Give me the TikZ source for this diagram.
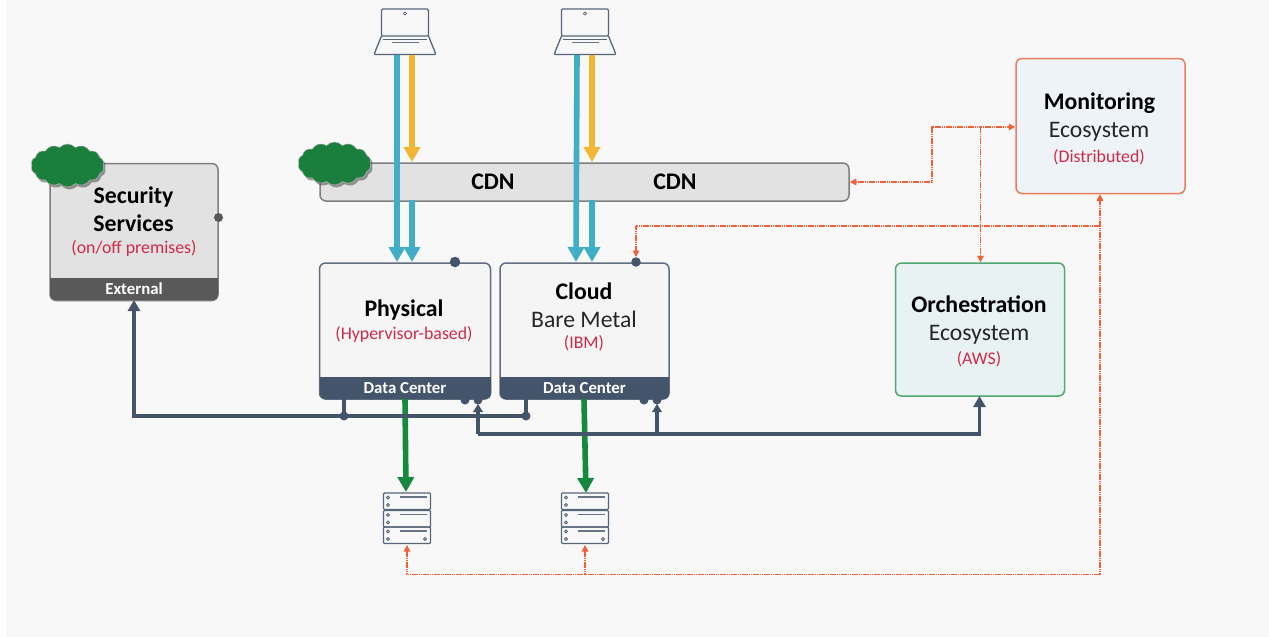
\documentclass[tikz,border=0pt]{standalone}
\usepackage{fontspec}
\setmainfont{Carlito}
\usetikzlibrary{arrows.meta,calc,shadows,shapes.symbols}
\definecolor{pagebg}{HTML}{F8F8F8}
\definecolor{slateblue}{HTML}{44546A}
\definecolor{boxgrey}{HTML}{E2E2E2}
\definecolor{boxedge}{HTML}{7F7F7F}
\definecolor{darkband}{HTML}{595959}
\definecolor{boxlight}{HTML}{F5F5F6}
\definecolor{tealarrow}{HTML}{3FAEC6}
\definecolor{goldarrow}{HTML}{F2B632}
\definecolor{greenarrow}{HTML}{158A3E}
\definecolor{cloudgreen}{HTML}{1A7F3C}
\definecolor{monred}{HTML}{F2603A}
\definecolor{monedge}{HTML}{EC7B5F}
\definecolor{orchedge}{HTML}{4FA973}
\definecolor{icefill}{HTML}{EDF3F6}
\definecolor{orchfill}{HTML}{E9F2F3}
\definecolor{labelred}{HTML}{CF2A4A}
\tikzset{
  x=1pt,y=-1pt,
  tealline/.style={draw=tealarrow,line width=5.6pt,-{Triangle[length=15pt,width=16pt]}},
  goldline/.style={draw=goldarrow,line width=5.6pt,-{Triangle[length=15pt,width=16pt]}},
  greenline/.style={draw=greenarrow,line width=5.6pt,-{Triangle[length=15pt,width=16pt]}},
  busline/.style={draw=slateblue,line width=3.8pt},
  bustip/.style={-{Triangle[length=11pt,width=12pt]}},
  monline/.style={draw=monred,line width=1.3pt,dash pattern=on 1.6pt off .6pt},
  montip/.style={-{Triangle[length=6.5pt,width=6.5pt]}},
  bigbold/.style={font=\fontsize{23.8}{28}\selectfont\bfseries,text=black},
  bigreg/.style={font=\fontsize{23.7}{28}\selectfont,text=black!85},
  redtext/.style={font=\fontsize{17.8}{20}\selectfont,text=labelred},
  bandtext/.style={font=\fontsize{16.8}{18}\selectfont\bfseries,text=white},
  cardbox/.style={draw=slateblue!85,line width=1.5pt,rounded corners=6pt,fill=boxlight,minimum height=0pt,inner sep=0pt},
  busdot/.style={circle,fill=slateblue,inner sep=0pt,minimum size=9pt},
  greydot/.style={circle,fill=darkband,inner sep=0pt,minimum size=9pt},
  icon/.style={draw=slateblue!90,line width=1.3pt,line join=round,fill=none},
  iconbar/.style={draw=slateblue!80,line width=1.3pt},
  cloudshape/.style={cloud,cloud puffs=14,cloud puff arc=95,aspect=1.75,fill=cloudgreen,draw=black!30,line width=.5pt,inner sep=0pt,minimum width=73pt,minimum height=43pt,drop shadow={shadow xshift=2pt,shadow yshift=-2.5pt,opacity=.55,fill=black!70}},
}
\newcommand{\laptopicon}[1]{%
  \begin{scope}[shift={(#1)}]
    \draw[icon,rounded corners=1.2pt] (-23.5,-46) rectangle (23.5,-19);
    \draw[icon,rounded corners=1.2pt] (-23.5,-19) -- (-31,-.5) -- (31,-.5) -- (23.5,-19);
    \draw[icon] (-22,-15.5) -- (22,-15.5);
    \draw[iconbar] (-13,-12.5) -- (14,-12.5);
    \draw[icon,line width=.8pt] (0,-41.5) circle (1.6);
  \end{scope}}
\newcommand{\servericon}[1]{%
  \begin{scope}[shift={(#1)}]
    \foreach \yy in {0,17.5,34}{
      \draw[icon,rounded corners=1pt] (-23.5,\yy) rectangle (23.5,\yy+16.5);
      \draw[icon,line width=.9pt] (-19,\yy+4.5) circle (1.6);
      \draw[icon,line width=.9pt] (-19,\yy+12) circle (1.6);
      \draw[iconbar] (-7,\yy+4) -- (20,\yy+4);
    }
    \draw[icon,line width=.9pt] (18,46) circle (1.6);
  \end{scope}}
\begin{document}
\begin{tikzpicture}
\useasboundingbox (0,0) rectangle (1269,637);
\fill[white] (0,0) rectangle (1269,637);
\fill[pagebg] (6,0) rectangle (1269,637);

% Security Services
\node[cardbox,draw=boxedge,fill=boxgrey,minimum width=168pt,minimum height=137pt] (sec) at (134,232) {};
\begin{scope}
  \fill[darkband,rounded corners=5pt] (50,278) rectangle (218,300);
  \fill[darkband] (50,278) rectangle (218,288);
\end{scope}
\node[bandtext] (secband) at (134,289) {External};
\node[bigbold,align=center,font=\fontsize{23.8}{28}\selectfont\bfseries] (sectxt) at (133.5,209.5) {Security\\Services};
\node[redtext] (secsub) at (134,248.5) {(on/off premises)};
\node[greydot] (secdot) at (218.5,217.5) {};
\node[cloudshape] (cloud1) at (67.5,165.5) {};

% CDN
\node[cardbox,draw=boxedge,fill=boxgrey,minimum width=529pt,minimum height=38pt] (cdn) at (584.5,182) {};
\node[cloudshape] (cloud2) at (334.5,163.5) {};
\node[bigbold] (cdn1) at (493,181.5) {CDN};
\node[bigbold] (cdn2) at (675,181.5) {CDN};

% Physical
\node[cardbox,minimum width=171pt,minimum height=136pt] (phys) at (405,331) {};
\fill[slateblue,rounded corners=5pt] (320,377) rectangle (491,399);
\fill[slateblue] (320,377) rectangle (491,387);
\node[bandtext] (physband) at (405,388) {Data Center};
\node[bigbold] (phystxt) at (404,310) {Physical};
\node[redtext] (physsub) at (404,334) {(Hypervisor-based)};

% Cloud
\node[cardbox,minimum width=169pt,minimum height=136pt] (bare) at (584.5,331) {};
\fill[slateblue,rounded corners=5pt] (500,377) rectangle (669,399);
\fill[slateblue] (500,377) rectangle (669,387);
\node[bandtext] (bareband) at (584.5,388) {Data Center};
\node[bigbold] (baretxt) at (584,291) {Cloud};
\node[bigreg] (baretxtb) at (584,319.5) {Bare Metal};
\node[redtext] (baresub) at (584,343.5) {(IBM)};

% Orchestration
\node[cardbox,draw=orchedge,fill=orchfill,minimum width=169pt,minimum height=133pt] (orch) at (980,329.5) {};
\node[bigbold] (orchtxt) at (979,304.5) {Orchestration};
\node[bigreg] (orchtxtb) at (979,334.5) {Ecosystem};
\node[redtext] (orchsub) at (979,359) {(AWS)};

% Monitoring
\node[cardbox,draw=monedge,fill=icefill,minimum width=169pt,minimum height=135pt] (mon) at (1100.5,126) {};
\node[bigbold] (montxt) at (1099.5,103.5) {Monitoring};
\node[bigreg] (montxtb) at (1099,132) {Ecosystem};
\node[redtext] (monsub) at (1099,157) {(Distributed)};

% icons
\laptopicon{405,55}
\laptopicon{585,55}
\coordinate (lap1) at (405,55);
\coordinate (lap2) at (585,55);
\servericon{407,493}
\servericon{585,493}
\coordinate (srv1) at (407,493);
\coordinate (srv2) at (585,493);
\coordinate (srv1b) at (407,545);
\coordinate (srv2b) at (585,545);

% user arrows
\draw[tealline] (397,55) -- (397,262);
\draw[goldline] (412,55) -- (412,162);
\draw[tealline] (412,200) -- (412,262);
\draw[tealline] (577,55) -- (576,262);
\draw[goldline] (592,55) -- (592,162);
\draw[tealline] (592,200) -- (592,262);

% green arrows
\draw[greenline] (405,399) -- (406,492);
\draw[greenline] (584,399) -- (586,493);

% buses
\coordinate (secin) at (134,300);
\coordinate (j1) at (344,416);
\coordinate (j2) at (526,416);
\coordinate (j3) at (478,434);
\coordinate (j4) at (657,434);
\coordinate (orchin) at (979.5,396);
\draw[busline] (344,399) -- (j1);
\draw[busline] (j2) -- (526,399);
\draw[busline,bustip] (j2) -- (134,416) -- (secin);
\node[busdot] (dot1) at (j1) {};
\node[busdot] (dot2) at (j2) {};
\node[busdot] (dot3) at (465,400) {};
\node[busdot] (dot4) at (478,400) {};
\node[busdot] (dot5) at (644,400) {};
\node[busdot] (dot6) at (657,400) {};
\draw[busline] (j3) -- (478,410);
\draw[busline] (j4) -- (657,410);
\fill[slateblue] (478,404) -- (473,412) -- (483,412) -- cycle;
\fill[slateblue] (657,404) -- (652,412) -- (662,412) -- cycle;
\draw[busline,bustip] (j3) -- (979.5,434) -- (orchin);
\node[busdot,minimum size=10.5pt] (dot7) at (455,262) {};
\node[busdot,minimum size=9.5pt] (dot8) at (636,262) {};

% monitoring lines
\coordinate (m1) at (980.5,127);
\coordinate (m2) at (932,127);
\coordinate (m3) at (932,182);
\coordinate (m4) at (1100,226);
\coordinate (m5) at (636,226);
\coordinate (m6) at (1100,574.5);
\coordinate (m7) at (407,574.5);
\coordinate (m8) at (585,574.5);
\draw[monline,montip] (m1) -- (mon.west |- m1);
\draw[monline,montip] (m1) -- (m2) -- (m3) -- (cdn.east |- m3);
\draw[monline,montip] (m1) -- (orch.north -| m1);
\draw[monline,montip] (m6) -- (mon.south -| m6);
\draw[monline,montip] (m4) -- (m5) -- (636,257);
\draw[monline,montip] (m6) -- (m7) -- (srv1b);
\draw[monline,montip] (m8) -- (srv2b);
\end{tikzpicture}
\end{document}
